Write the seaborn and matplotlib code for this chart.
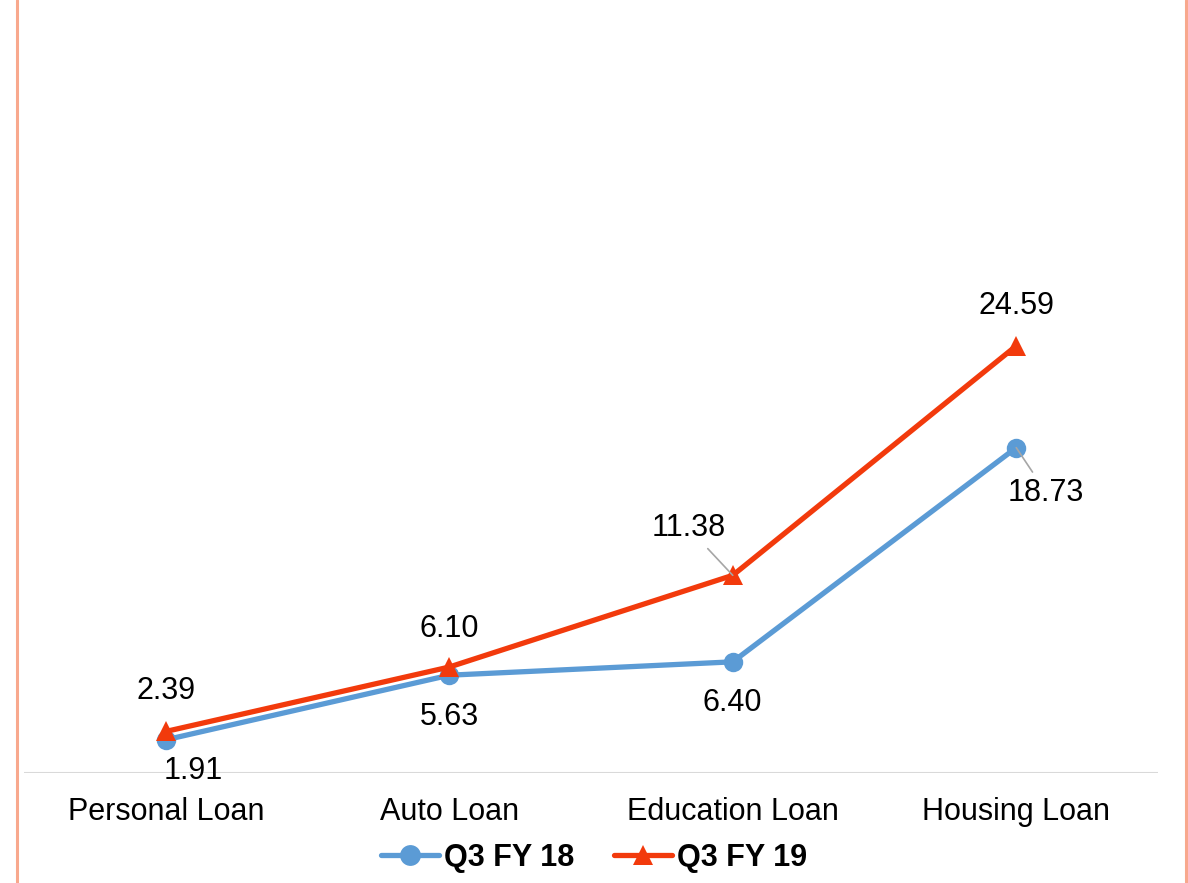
import numpy as np
import pandas as pd
import seaborn as sns
import matplotlib.pyplot as plt
from matplotlib.lines import Line2D

categories = ['Personal Loan', 'Auto Loan', 'Education Loan', 'Housing Loan']
q3_fy18 = [1.91, 5.63, 6.40, 18.73]
q3_fy19 = [2.39, 6.10, 11.38, 24.59]
series_names = ['Q3 FY 18', 'Q3 FY 19']

df = pd.DataFrame({
    'loan': categories * 2,
    'value': q3_fy18 + q3_fy19,
    'series': [series_names[0]] * 4 + [series_names[1]] * 4,
})

sns.set_theme(style='white')
plt.rcParams['font.family'] = ['Liberation Sans', 'DejaVu Sans']
plt.rcParams['text.color'] = 'black'

blue = '#5B9BD5'
red = '#F23A0C'

fig = plt.figure(figsize=(11.88, 8.83), dpi=100)
ax = fig.add_axes([24 / 1188, 110 / 883, 1134 / 1188, 773 / 883])

sns.lineplot(data=df, x='loan', y='value', hue='series', style='series',
             palette={series_names[0]: blue, series_names[1]: red},
             markers={series_names[0]: 'o', series_names[1]: '^'},
             dashes=False, linewidth=3.8, markersize=14, markeredgewidth=0,
             sort=False, ax=ax)

ax.set_xlim(-0.5, 3.5)
ax.set_ylim(0, 44.5)
ax.set_xlabel('')
ax.set_ylabel('')
ax.set_yticks([])
for s in ax.spines.values():
    s.set_visible(False)
ax.axhline(0, color='#D9D9D9', lw=1.5, zorder=0)
ax.tick_params(axis='x', labelsize=22, pad=17, length=0, colors='black')

# data labels (offsets in pixels)
off18 = [(27, -31), (0, -42), (0, -41), (30, -45)]
off19 = [(0, 40), (0, 38), (-44, 47), (0, 40)]
lead18 = [False, False, False, True]
lead19 = [False, False, True, False]
for i, cat in enumerate(categories):
    for vals, offs, leads in ((q3_fy18, off18, lead18), (q3_fy19, off19, lead19)):
        kw = {}
        if leads[i]:
            kw['arrowprops'] = dict(arrowstyle='-', color='#A6A6A6', lw=1.2,
                                    shrinkA=2, shrinkB=0)
        ax.annotate(f'{vals[i]:.2f}', xy=(i, vals[i]), xytext=offs[i],
                    textcoords='offset pixels', ha='center', va='center',
                    fontsize=22, color='black', **kw)

handles, labels = ax.get_legend_handles_labels()
ax.legend_.remove()
for h in handles:
    h.set_markersize(15)
leg = fig.legend(handles, labels, loc='center', bbox_to_anchor=(0.5, 25 / 883),
                 ncol=2, frameon=False, handlelength=1.9, columnspacing=1.3,
                 handletextpad=0.15, prop={'size': 22, 'weight': 'bold'})
for t in leg.get_texts():
    t.set_color('black')

# side borders
for xp in (16.5 / 1188, 1185.5 / 1188):
    fig.add_artist(Line2D([xp, xp], [0, 1], transform=fig.transFigure,
                          color='#F8A88D', lw=2.2))

fig.savefig('out.png', dpi=100)
